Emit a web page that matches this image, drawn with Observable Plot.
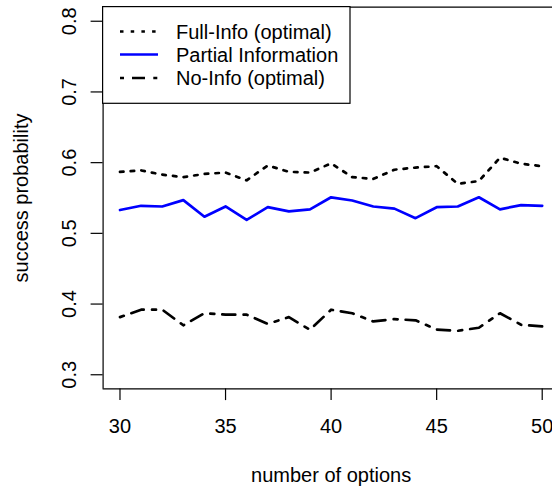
<!DOCTYPE html>
<html>
<head>
<meta charset="utf-8">
<script src="https://cdn.jsdelivr.net/npm/d3@7"></script>
<script src="https://cdn.jsdelivr.net/npm/@observablehq/plot@0.6"></script>
<style>
  html, body { margin: 0; padding: 0; background: white; overflow: hidden; }
</style>
</head>
<body>
<div id="chart"></div>
<script>
const options = [30, 31, 32, 33, 34, 35, 36, 37, 38, 39, 40, 41, 42, 43, 44, 45, 46, 47, 48, 49, 50];
const fullInfo = [0.587, 0.589, 0.583, 0.5795, 0.584, 0.586, 0.575, 0.596, 0.587, 0.586, 0.599, 0.5795, 0.577, 0.590, 0.593, 0.595, 0.570, 0.574, 0.607, 0.5985, 0.595];
const partialInfo = [0.533, 0.539, 0.538, 0.547, 0.5235, 0.538, 0.519, 0.537, 0.531, 0.534, 0.551, 0.5465, 0.538, 0.535, 0.5215, 0.537, 0.538, 0.551, 0.534, 0.540, 0.539];
const noInfo = [0.3815, 0.392, 0.392, 0.370, 0.387, 0.385, 0.385, 0.372, 0.3815, 0.3636, 0.392, 0.387, 0.3754, 0.3787, 0.377, 0.364, 0.3622, 0.3665, 0.387, 0.3707, 0.3683];
const xTicks = [30, 35, 40, 45, 50];
const yTicks = [0.3, 0.4, 0.5, 0.6, 0.7, 0.8];
const seriesNames = ["Full-Info (optimal)", "Partial Information", "No-Info (optimal)"];
const xTitle = "number of options";
const yTitle = "success probability";

const seriesStyles = [
  {stroke: "black", strokeWidth: 2.7, strokeDasharray: "3.5,7.2"},
  {stroke: "#0000ff", strokeWidth: 2.7, strokeDasharray: null},
  {stroke: "black", strokeWidth: 2.7, strokeDasharray: "4,8,13,8.3"}
];
const seriesValues = [fullInfo, partialInfo, noInfo];
const toRows = (vals) => options.map((x, i) => ({x, y: vals[i]}));

const W = 552, H = 489;
const pL = 102.6, pR = 558.6, pT = 6.6, pB = 388.4;
const xDom = [29.2, 50.8], yDom = [0.28, 0.82];
const fontFam = "'Liberation Sans', Arial, Helvetica, sans-serif";

const chart = Plot.plot({
  width: W,
  height: H,
  marginLeft: pL,
  marginRight: 0,
  marginTop: pT,
  marginBottom: H - pB,
  style: {fontFamily: fontFam, fontSize: "20px", background: "white", color: "black"},
  x: {domain: xDom, range: [pL, pR]},
  y: {domain: yDom, range: [pB, pT]},
  marks: [
    Plot.ruleY(yDom, {x1: xDom[0], x2: xDom[1], stroke: "black", strokeWidth: 1.2}),
    Plot.ruleX([xDom[0]], {y1: yDom[0], y2: yDom[1], stroke: "black", strokeWidth: 1.2}),
    Plot.axisX({ticks: xTicks, tickSize: 11.7, tickPadding: 18.4, label: null, strokeWidth: 1.2, tickFormat: d => String(d)}),
    Plot.axisY({ticks: yTicks, tickSize: 12, label: null, strokeWidth: 1.2, tickFormat: () => ""}),
    Plot.text(yTicks, {y: d => d, frameAnchor: "left", dx: 75 - pL, rotate: -90, text: d => d.toFixed(1), textAnchor: "middle", lineAnchor: "bottom", fill: "black"}),
    Plot.text([yTitle], {frameAnchor: "left", dx: 27 - pL, rotate: -90, text: d => d, textAnchor: "middle", lineAnchor: "bottom", fill: "black"}),
    Plot.text([xTitle], {x: () => (xDom[0] + xDom[1]) / 2, frameAnchor: "bottom", dy: 481.7 - pB, text: d => d, textAnchor: "middle", lineAnchor: "bottom", fill: "black"}),
    ...seriesValues.map((vals, k) => Plot.line(toRows(vals), {x: "x", y: "y", ...seriesStyles[k], strokeLinejoin: "round"}))
  ]
});

// legend box (R-style, top-left inside plot)
const svgSel = d3.select(chart);
const lg = svgSel.append("g").attr("font-family", fontFam).attr("font-size", 20).attr("text-anchor", "start");
lg.append("rect").attr("x", pL).attr("y", pT).attr("width", 350 - pL).attr("height", 103.3 - pT)
  .attr("fill", "white").attr("stroke", "black").attr("stroke-width", 1.2);
const rowY = [31.5, 54.5, 78];
seriesNames.forEach((name, k) => {
  lg.append("line").attr("x1", 120).attr("x2", 158).attr("y1", rowY[k]).attr("y2", rowY[k])
    .attr("stroke", seriesStyles[k].stroke).attr("stroke-width", seriesStyles[k].strokeWidth)
    .attr("stroke-dasharray", seriesStyles[k].strokeDasharray);
  lg.append("text").attr("x", 176).attr("y", rowY[k] + 7.2).attr("fill", "black").attr("text-anchor", "start").text(name);
});

document.getElementById("chart").appendChild(chart);
</script>
</body>
</html>
